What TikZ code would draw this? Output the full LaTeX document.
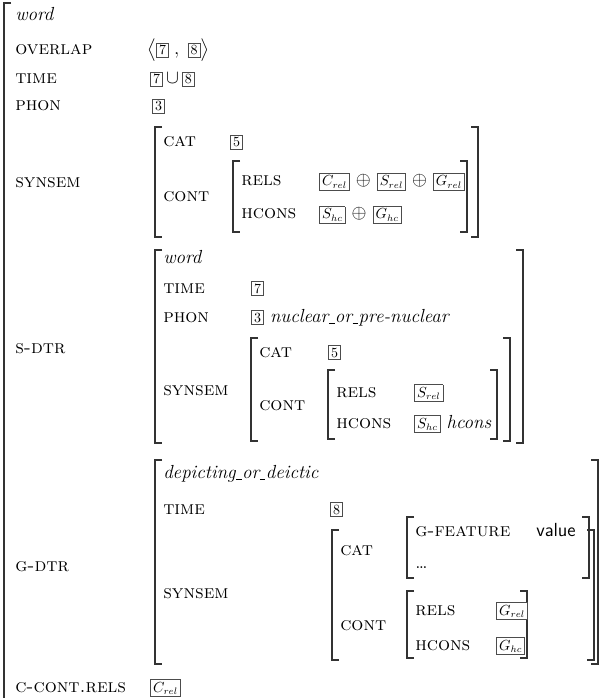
\documentclass[tikz,border=0pt]{standalone}
\usepackage{amsmath, amssymb}
\usepackage{xcolor}
\usepackage{tikz}

\newcommand{\avmfont}{\fontsize{14.2}{17}\selectfont}
\newcommand{\avmtag}[1]{{\setlength{\fboxsep}{1.6pt}\setlength{\fboxrule}{0.5pt}\fcolorbox{black!70}{white}{\fontsize{10.5}{10.5}\selectfont #1}}}
\newcommand{\us}{\kern0.02em\rule[-0.12em]{0.3em}{0.05em}\kern0.02em}
\newcommand{\avmL}[3]{\draw[brak] (#1+7,#2) -- (#1,#2) -- (#1,#3) -- (#1+7,#3);}
\newcommand{\avmR}[3]{\draw[brak] (#1-7,#2) -- (#1,#2) -- (#1,#3) -- (#1-7,#3);}

\begin{document}
\begin{tikzpicture}[
    x=0.75pt, y=-0.75pt,
    every node/.style={inner sep=0pt, anchor=base west, font=\avmfont},
    attr/.style={font=\avmfont\scshape},
    avmtype/.style={font=\avmfont\itshape},
    brak/.style={line width=1pt, draw=black!80}
]
    \useasboundingbox (0,0) rectangle (605,698);
    \draw[brak] (11,3) -- (4,3) -- (4,698);

    \node[avmtype] (w0) at (15,21) {word};
    \node[attr] (overlap) at (15,55) {overlap};
    \node (overlapv) at (147,55) {$\big\langle\avmtag{7}\;,\;\avmtag{8}\big\rangle$};
    \node[attr] (time) at (15,84) {time};
    \node (timev) at (150,84) {\avmtag{7}\,$\cup$\,\avmtag{8}};
    \node[attr] (phon) at (15,111) {phon};
    \node (phonv) at (152,111) {\avmtag{3}};

    \node[attr] (synsem) at (15,188) {synsem};
    \avmL{155}{127}{237} \avmR{478}{127}{237}
    \node[attr] (cat) at (163,147) {cat};
    \node (catv) at (230,147) {\avmtag{5}};
    \node[attr] (cont) at (163,202) {cont};
    \avmL{233}{161}{232} \avmR{467}{161}{232}
    \node[attr] (rels) at (241,186) {rels};
    \node (relsv) at (319,186) {\avmtag{$C_{rel}$} $\oplus$ \avmtag{$S_{rel}$} $\oplus$ \avmtag{$G_{rel}$}};
    \node[attr] (hcons) at (241,219) {hcons};
    \node (hconsv) at (319,219) {\avmtag{$S_{hc}$} $\oplus$ \avmtag{$G_{hc}$}};

    \node[attr] (sdtr) at (15,353) {s-dtr};
    \avmL{155}{250}{443} \avmR{523}{250}{443}
    \node[avmtype] (sword) at (163,263) {word};
    \node[attr] (stime) at (163,293) {time};
    \node (stimev) at (251,293) {\avmtag{7}};
    \node[attr] (sphon) at (163,322) {phon};
    \node (sphonv) at (251,322) {\avmtag{3} \textit{nuclear\us or\us pre-nuclear}};
    \node[attr] (ssynsem) at (163,395) {synsem};
    \avmL{251}{338}{441} \avmR{510}{338}{441}
    \node[attr] (scat) at (259,357) {cat};
    \node (scatv) at (328,357) {\avmtag{5}};
    \node[attr] (scont) at (259,410) {cont};
    \avmL{328}{370}{439} \avmR{497}{370}{439}
    \node[attr] (srels) at (336,397) {rels};
    \node (srelsv) at (414,397) {\avmtag{$S_{rel}$}};
    \node[attr] (shcons) at (336,428) {hcons};
    \node (shconsv) at (414,428) {\avmtag{$S_{hc}$} \textit{hcons}};

    \node[attr] (gdtr) at (15,571) {g-dtr};
    \avmL{155}{460}{664} \avmR{598}{460}{664}
    \node[avmtype] (gtype) at (163,478) {depicting\us or\us deictic};
    \node[attr] (gtime) at (163,514) {time};
    \node (gtimev) at (330,514) {\avmtag{8}};
    \node[attr] (gsynsem) at (163,598) {synsem};
    \avmL{332}{530}{660} \avmR{594}{530}{660}
    \node[attr] (gcat) at (340,555) {cat};
    \avmL{407}{517}{578} \avmR{589}{517}{578}
    \node[attr] (gfeat) at (415,536) {g-feature};
    \node[font=\avmfont\sffamily] (gval) at (536,536) {value};
    \node (gdots) at (415,568) {\dots};
    \node[attr] (gcont) at (340,630) {cont};
    \avmL{407}{591}{658} \avmR{527}{591}{658}
    \node[attr] (grels) at (415,615) {rels};
    \node (grelsv) at (496,615) {\avmtag{$G_{rel}$}};
    \node[attr] (ghcons) at (415,650) {hcons};
    \node (ghconsv) at (496,650) {\avmtag{$G_{hc}$}};

    \node[attr] (ccont) at (15,692) {c-cont.rels};
    \node (ccontv) at (150,692) {\avmtag{$C_{rel}$}};
\end{tikzpicture}
\end{document}
